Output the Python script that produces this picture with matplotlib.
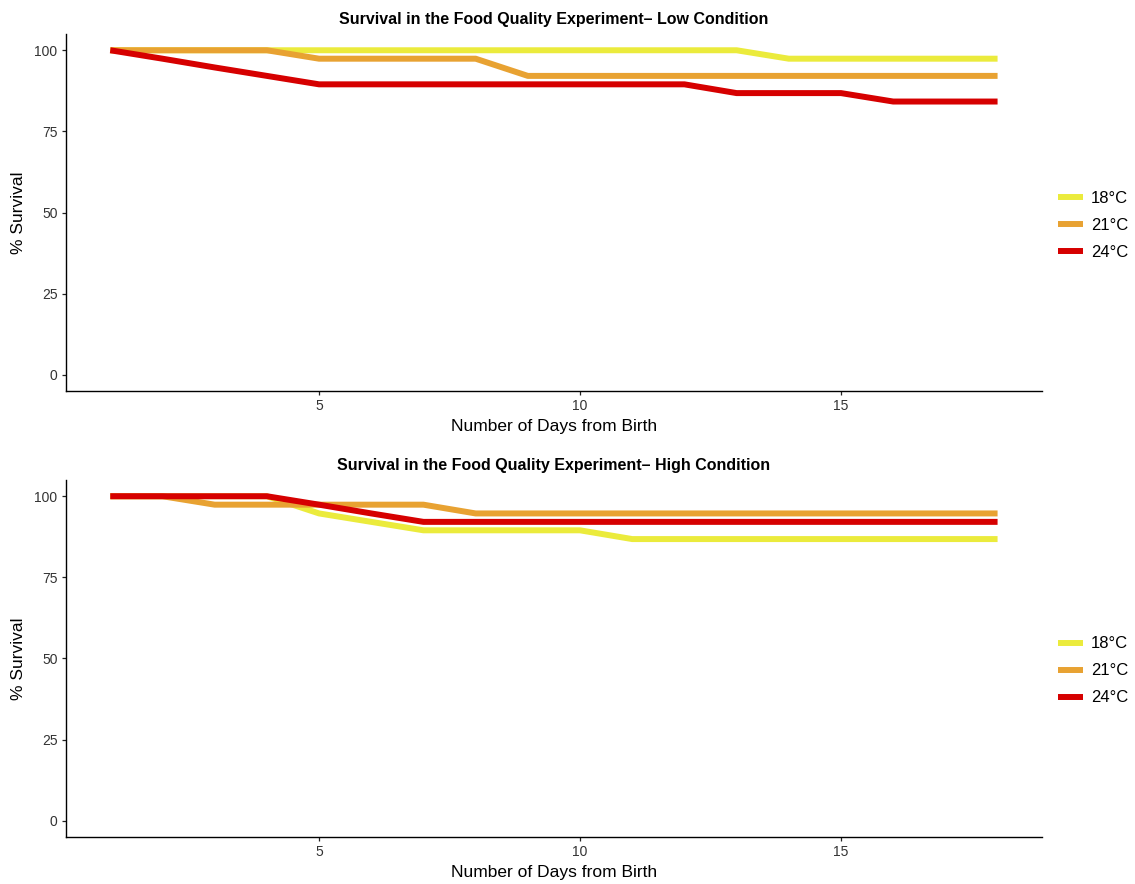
import matplotlib.pyplot as plt

days = list(range(1, 19))

# survival (%), low food condition
low_18 = [100, 100, 100, 100, 100, 100, 100, 100, 100, 100, 100, 100, 100, 97.4, 97.4, 97.4, 97.4, 97.4]
low_21 = [100, 100, 100, 100, 97.4, 97.4, 97.4, 97.4, 92.1, 92.1, 92.1, 92.1, 92.1, 92.1, 92.1, 92.1, 92.1, 92.1]
low_24 = [100, 97.4, 94.7, 92.1, 89.5, 89.5, 89.5, 89.5, 89.5, 89.5, 89.5, 89.5, 86.8, 86.8, 86.8, 84.2, 84.2, 84.2]

# high food condition
high_18 = [100, 100, 100, 100, 94.7, 92.1, 89.5, 89.5, 89.5, 89.5, 86.8, 86.8, 86.8, 86.8, 86.8, 86.8, 86.8, 86.8]
high_21 = [100, 100, 97.4, 97.4, 97.4, 97.4, 97.4, 94.7, 94.7, 94.7, 94.7, 94.7, 94.7, 94.7, 94.7, 94.7, 94.7, 94.7]
high_24 = [100, 100, 100, 100, 97.4, 94.7, 92.1, 92.1, 92.1, 92.1, 92.1, 92.1, 92.1, 92.1, 92.1, 92.1, 92.1, 92.1]

labels = ["18°C", "21°C", "24°C"]
colors = ["#EBEB3C", "#E8A232", "#D60000"]
titles = ["Survival in the Food Quality Experiment\u2013 Low Condition",
          "Survival in the Food Quality Experiment\u2013 High Condition"]

plt.rcParams["font.family"] = ["Liberation Sans", "DejaVu Sans"]

fig = plt.figure(figsize=(11.35, 8.84), dpi=100)
ax1 = fig.add_axes([0.0581, 0.5577, 0.8599, 0.4038])
ax2 = fig.add_axes([0.0581, 0.0532, 0.8599, 0.4038])

panels = [(ax1, [low_18, low_21, low_24]), (ax2, [high_18, high_21, high_24])]
for i, (ax, series) in enumerate(panels):
    for vals, lab, col in zip(series, labels, colors):
        ax.plot(days, vals, color=col, lw=4.3, label=lab, solid_capstyle="butt")
    ax.set_xlim(0.15, 18.85)
    ax.set_ylim(-5, 105)
    ax.set_xticks([5, 10, 15])
    ax.set_yticks([0, 25, 50, 75, 100])
    ax.spines["top"].set_visible(False)
    ax.spines["right"].set_visible(False)
    ax.spines["left"].set_linewidth(1.0)
    ax.spines["bottom"].set_linewidth(1.0)
    ax.tick_params(length=3, width=0.9, labelsize=10, pad=3, colors="#222222", labelcolor="#333333")
    ax.set_xlabel("Number of Days from Birth", fontsize=12.5, labelpad=4)
    ax.set_ylabel("% Survival", fontsize=12.5, labelpad=6)
    ax.set_title(titles[i], fontsize=11.5, fontweight="bold", pad=7)
    ax.legend(loc="center left", bbox_to_anchor=(1.005, 0.465), frameon=False,
              fontsize=12, handlelength=1.5, labelspacing=0.72, handletextpad=0.45,
              borderaxespad=0.3)

fig.savefig("out.png", dpi=100, facecolor="white")
